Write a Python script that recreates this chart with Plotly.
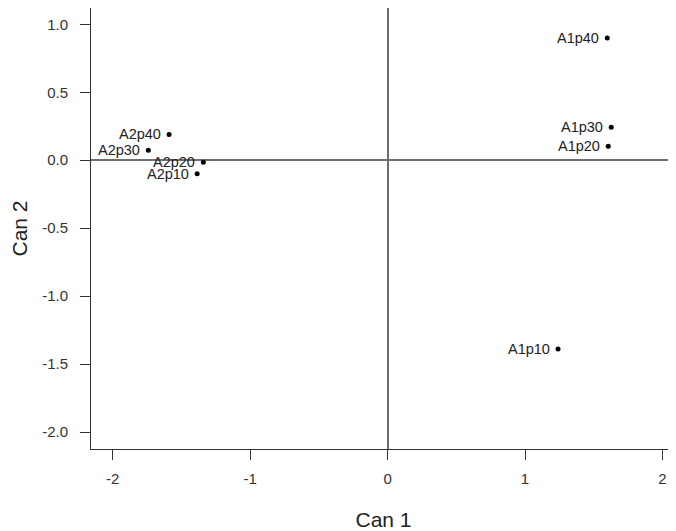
import plotly.graph_objects as go

labels = ["A1p10", "A1p20", "A1p30", "A1p40", "A2p10", "A2p20", "A2p30", "A2p40"]
can1 = [1.24, 1.605, 1.627, 1.598, -1.385, -1.34, -1.74, -1.589]
can2 = [-1.39, 0.103, 0.243, 0.90, -0.10, -0.015, 0.074, 0.19]

x_ticks = [-2, -1, 0, 1, 2]
y_ticks = [-2.0, -1.5, -1.0, -0.5, 0.0, 0.5, 1.0]

FONT = "Liberation Sans, Arial, sans-serif"

fig = go.Figure()
fig.add_trace(go.Scatter(
    x=can1, y=can2, mode="markers",
    marker=dict(color="black", size=5),
    text=labels, hoverinfo="text", showlegend=False,
))
for lab, xv, yv in zip(labels, can1, can2):
    fig.add_annotation(x=xv, y=yv, text=lab, showarrow=False,
                       xanchor="right", yanchor="middle", xshift=-6,
                       font=dict(family=FONT, size=14.5, color="#222"))

axis_common = dict(
    showgrid=False, automargin=False,
    showline=True, linecolor="#333", linewidth=1,
    ticks="outside", ticklen=10, tickcolor="#333", tickwidth=1,
    zeroline=True, zerolinecolor="#6e6e6e", zerolinewidth=1.5,
    tickfont=dict(family=FONT, size=15, color="#333"),
    title_font=dict(family=FONT, size=21, color="#222"),
)

# page body has an 8px default margin, so the figure is sized to fit the window
fig.update_layout(
    width=668, height=523,
    margin=dict(l=83, r=0, t=0, b=82),
    paper_bgcolor="white", plot_bgcolor="white",
    xaxis=dict(range=[-2.157, 2.098], tickvals=x_ticks, ticktext=[str(v) for v in x_ticks],
               title=dict(text="Can 1", standoff=26), ticklabelstandoff=6, **axis_common),
    yaxis=dict(range=[-2.125, 1.12], tickvals=y_ticks, ticktext=[f"{v:.1f}" for v in y_ticks],
               title=dict(text="Can 2", standoff=12), ticklabelstandoff=9, **axis_common),
)

fig.write_html("out.html")
